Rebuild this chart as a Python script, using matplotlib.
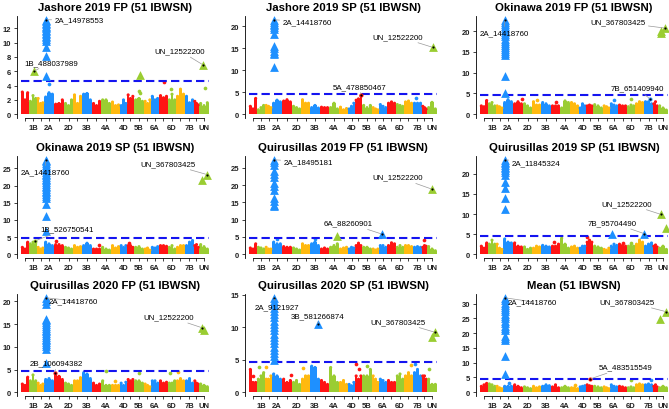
import numpy as np
import matplotlib
matplotlib.use('Agg')
import matplotlib.pyplot as plt

plt.rcParams['font.family'] = ['Liberation Sans', 'DejaVu Sans']

# chromosomes and their relative widths on the x axis
chroms = ['1A', '1B', '1D', '2A', '2B', '2D', '3A', '3B', '3D', '4A', '4B',
          '4D', '5A', '5B', '5D', '6A', '6B', '6D', '7A', '7B', '7D', 'UN']
chrom_len = [8, 8, 7, 10, 10, 9, 9, 10, 9, 10, 9, 7, 7, 10, 7, 8, 9, 8, 9, 9, 5, 10]
palette = ['#FF1414', '#9ACD32', '#FFB90F', '#1E90FF']
threshold = 4.6

titles = ['Jashore 2019 FP (51 IBWSN)', 'Jashore 2019 SP (51 IBWSN)', 'Okinawa 2019 FP (51 IBWSN)',
          'Okinawa 2019 SP (51 IBWSN)', 'Quirusillas 2019 FP (51 IBWSN)', 'Quirusillas 2019 SP (51 IBWSN)',
          'Quirusillas 2020 FP (51 IBWSN)', 'Quirusillas 2020 SP (51 IBWSN)', 'Mean (51 IBWSN)']
ystep = [2, 5, 5, 5, 5, 5, 5, 5, 5]

# cloud height of non-significant markers: 3 bins per chromosome (-log10 p)
bins_jfp19 = [(3.1, 2.0, 3.0), (1.8, 2.6, 2.2), (2.2, 1.5, 1.6), (2.4, 3.0, 2.8), (1.4, 1.5, 2.0), (1.5, 1.2, 2.0),
              (2.7, 1.5, 2.5), (2.8, 2.9, 2.0), (1.5, 1.2, 1.8), (2.0, 2.0, 1.5), (1.7, 1.2, 1.3), (1.2, 2.0, 1.5),
              (2.7, 2.2, 2.5), (2.0, 2.2, 1.8), (1.8, 1.5, 2.0), (2.5, 2.0, 2.2), (2.6, 2.3, 2.5), (2.0, 2.8, 2.0),
              (2.5, 3.5, 2.8), (2.5, 1.6, 2.0), (1.8, 1.5, 1.3), (1.5, 1.2, 1.6)]
bins_jsp19 = [(1.8, 1.2, 3.6), (1.0, 1.5, 2.0), (2.0, 1.8, 1.5), (2.5, 3.2, 2.8), (3.0, 3.3, 2.8), (1.8, 1.5, 1.2),
              (3.3, 2.5, 2.5), (1.5, 2.0, 1.4), (1.6, 1.5, 1.5), (1.5, 2.5, 1.2), (1.6, 1.0, 1.3), (1.2, 1.8, 2.5),
              (3.2, 3.5, 4.2), (2.0, 1.5, 2.0), (1.5, 1.2, 1.0), (2.2, 1.8, 1.5), (2.5, 2.8, 2.5), (2.2, 2.0, 1.8),
              (2.8, 3.0, 2.5), (2.5, 2.5, 2.5), (1.8, 1.5, 1.2), (1.5, 2.7, 1.2)]
bins_ofp19 = [(2.0, 1.8, 3.3), (2.5, 2.8, 2.0), (2.0, 1.8, 1.5), (2.8, 3.5, 3.0), (2.5, 3.0, 2.5), (2.5, 2.0, 1.5),
              (3.0, 2.2, 2.2), (2.8, 2.5, 2.0), (2.0, 2.0, 2.0), (1.5, 3.2, 2.8), (2.8, 2.5, 2.0), (1.5, 2.5, 2.0),
              (2.0, 2.2, 2.0), (2.3, 2.0, 1.5), (2.0, 1.8, 1.5), (2.5, 2.2, 2.0), (2.2, 2.0, 2.0), (1.8, 2.2, 2.0),
              (2.5, 3.0, 2.8), (3.0, 3.0, 2.5), (2.5, 3.0, 2.0), (2.0, 1.5, 1.0)]
bins_osp19 = [(2.0, 1.5, 3.5), (3.0, 3.5, 3.0), (2.0, 1.5, 1.8), (3.5, 3.0, 2.5), (2.8, 2.8, 2.5), (2.0, 1.8, 1.5),
              (2.5, 2.0, 2.2), (2.5, 3.2, 2.5), (1.5, 1.5, 1.5), (2.0, 1.5, 1.2), (2.5, 1.8, 2.2), (2.5, 2.0, 2.5),
              (2.5, 2.5, 2.0), (2.0, 2.2, 1.5), (1.5, 1.8, 1.2), (2.0, 1.8, 2.2), (2.5, 2.5, 2.3), (2.0, 2.5, 1.5),
              (2.0, 2.5, 2.5), (2.5, 3.5, 4.0), (2.5, 2.8, 2.0), (2.8, 2.2, 1.5)]
bins_qfp19 = [(1.8, 1.5, 3.0), (2.0, 1.8, 1.5), (2.0, 1.5, 1.5), (3.5, 3.0, 3.0), (2.2, 2.0, 2.0), (1.8, 1.5, 1.2),
              (3.0, 2.5, 2.5), (3.0, 3.5, 2.5), (1.5, 1.8, 1.5), (2.0, 2.5, 3.0), (1.5, 1.8, 2.0), (1.5, 2.0, 1.8),
              (2.5, 3.2, 2.5), (2.0, 2.0, 1.5), (1.5, 1.2, 1.5), (2.5, 2.5, 2.0), (2.5, 3.3, 3.0), (2.0, 2.5, 2.0),
              (2.5, 2.5, 2.2), (2.0, 2.2, 2.0), (2.0, 2.5, 2.3), (2.2, 1.5, 1.0)]
bins_qsp19 = [(2.0, 1.5, 2.8), (2.5, 3.5, 2.5), (2.5, 1.5, 1.2), (3.8, 3.0, 2.8), (2.8, 2.0, 1.8), (1.8, 1.2, 1.5),
              (1.5, 2.0, 1.8), (2.2, 2.0, 1.8), (2.0, 2.0, 2.5), (4.0, 2.5, 1.5), (1.8, 2.0, 1.5), (1.5, 2.0, 2.0),
              (3.0, 3.5, 3.0), (2.0, 1.8, 1.5), (1.2, 1.0, 1.5), (2.0, 2.5, 2.2), (2.5, 2.2, 2.0), (2.0, 2.2, 2.0),
              (2.5, 3.5, 3.0), (2.0, 2.5, 2.8), (2.0, 2.3, 1.8), (1.5, 2.0, 1.2)]
bins_qfp20 = [(1.8, 1.5, 3.3), (2.5, 3.8, 2.5), (2.0, 1.5, 1.8), (2.8, 3.0, 2.5), (4.2, 3.5, 2.8), (2.0, 1.8, 1.5),
              (2.5, 2.5, 3.2), (4.3, 4.0, 3.0), (2.0, 1.5, 1.8), (2.5, 1.5, 1.5), (1.5, 1.5, 1.5), (2.0, 1.5, 2.2),
              (2.8, 2.5, 2.8), (2.5, 2.5, 2.0), (1.8, 1.5, 1.2), (2.5, 2.5, 2.0), (2.5, 2.0, 2.2), (2.0, 2.0, 2.5),
              (2.5, 3.0, 2.5), (2.5, 3.0, 2.0), (2.5, 2.0, 1.8), (1.8, 1.5, 1.2)]
bins_qsp20 = [(3.5, 1.5, 1.5), (2.0, 2.5, 3.0), (2.0, 2.0, 2.5), (2.8, 2.5, 2.0), (2.0, 1.5, 1.8), (1.5, 1.8, 1.2),
              (2.0, 2.5, 2.5), (4.0, 3.8, 2.0), (1.8, 1.5, 1.2), (3.8, 2.5, 1.5), (1.5, 1.8, 1.2), (1.2, 1.0, 1.5),
              (2.5, 2.0, 2.5), (2.5, 2.5, 3.5), (2.5, 2.0, 1.5), (2.0, 1.8, 1.5), (1.8, 1.5, 1.5), (2.5, 2.8, 2.0),
              (2.5, 3.0, 2.5), (3.0, 3.5, 2.5), (2.5, 2.5, 2.0), (2.0, 1.2, 1.2)]
bins_mean = [(2.0, 2.5, 3.0), (2.8, 2.5, 2.0), (2.0, 1.5, 1.2), (2.0, 2.0, 2.0), (2.5, 2.0, 1.5), (1.8, 1.5, 1.2),
             (2.0, 1.5, 1.8), (2.0, 2.5, 2.2), (1.8, 2.5, 1.5), (1.5, 2.0, 1.5), (1.5, 1.5, 1.2), (1.8, 2.0, 2.2),
             (2.5, 2.2, 2.0), (2.0, 1.8, 1.5), (1.8, 1.5, 1.2), (2.5, 2.0, 1.8), (2.0, 1.8, 1.5), (1.5, 1.8, 1.5),
             (2.5, 2.8, 2.5), (2.5, 2.8, 2.5), (2.0, 2.5, 1.8), (1.5, 2.0, 1.5)]

# isolated markers below the threshold: (chrom, position in chrom 0-1, -log10 p)
dots_jfp19 = [('2A', 0.5, 4.2), ('6B', 0.6, 4.5), ('5B', 0.5, 3.3), ('5B', 0.6, 3.0), ('6D', 0.4, 3.5), ('UN', 0.6, 3.6)]
dots_jsp19 = [('7B', 0.3, 3.8)]
dots_ofp19 = [('2B', 0.9, 3.6), ('3A', 0.5, 3.3), ('3D', 0.5, 3.0), ('6A', 0.5, 3.5), ('6D', 0.5, 3.6)]
dots_osp19 = [('2B', 0.2, 3.8), ('3D', 0.8, 2.8), ('5A', 0.3, 3.3)]
dots_qfp19 = [('2A', 0.5, 4.5), ('3B', 0.5, 4.5), ('7D', 0.5, 4.0)]
dots_qsp19 = [('3D', 0.3, 3.0), ('5A', 0.2, 4.3), ('6B', 0.5, 2.7), ('6D', 0.5, 2.8)]
dots_qfp20 = [('4A', 0.5, 4.6), ('4B', 0.5, 2.5), ('5B', 0.5, 4.2), ('6D', 0.2, 4.3), ('7A', 0.2, 4.5)]
dots_qsp20 = [('1A', 0.5, 2.5), ('1B', 0.2, 3.8), ('1D', 0.2, 3.8), ('2B', 0.9, 2.6), ('3A', 0.2, 3.7), ('5A', 0.2, 4.4),
              ('5A', 0.6, 3.5), ('5B', 0.5, 4.0), ('7A', 0.8, 4.2), ('7B', 0.2, 4.4), ('UN', 0.2, 3.6)]
dots_mean = [('2A', 0.6, 3.2), ('4B', 0.5, 2.5), ('6D', 0.5, 4.0), ('7B', 0.8, 4.0)]

# significant markers (triangles): (chrom, position in chrom 0-1, [-log10 p])
hits_jfp19 = [('1B', 0.6, [6.0]),
              ('2A', 0.2, [13.2, 13.0, 12.8, 12.6, 12.4, 12.2, 12.0, 11.8, 11.6, 11.4, 11.2, 11.0, 10.8, 10.5,
                           10.2, 9.4, 8.2, 5.4]),
              ('5B', 0.6, [5.5]), ('UN', 0.4, [6.9])]
hits_jsp19 = [('2A', 0.2, [21.5, 21.0, 20.6, 20.2, 19.8, 19.4, 18.3, 15.5, 15.0, 14.5, 14.0, 13.6, 10.7]),
              ('UN', 0.6, [15.2])]
hits_ofp19 = [('2A', 0.2, [22.7, 22.2, 21.7, 21.2, 20.7, 20.2, 19.7, 19.2, 18.7, 18.2, 17.7, 17.2, 16.7, 16.2,
                           15.7, 15.2, 14.6, 14.2, 9.3, 5.0]),
              ('UN', 0.3, [20.0, 19.6]), ('UN', 0.7, [20.7])]
hits_osp19 = [('2A', 0.2, [27.5, 27.0, 26.5, 26.0, 25.5, 25.0, 24.5, 24.0, 23.5, 23.0, 22.5, 22.0, 21.5, 21.0,
                           20.5, 20.0, 19.5, 19.0, 18.5, 18.0, 17.5, 17.0, 16.5, 14.5, 11.0, 6.8]),
              ('UN', 0.3, [21.5]), ('UN', 0.8, [23.2])]
hits_qfp19 = [('2A', 0.2, [27.3, 26.6, 25.8, 24.0, 23.2, 22.4, 20.5, 19.6, 18.5, 16.2, 15.4, 14.3, 13.8]),
              ('4A', 0.8, [5.3]), ('6A', 0.4, [5.8]), ('UN', 0.5, [18.8])]
hits_qsp19 = [('2A', 0.2, [23.5, 23.0, 22.6, 22.2, 21.8, 21.4, 21.0, 20.5, 19.6, 18.0, 16.5, 14.0, 11.3]),
              ('6A', 0.25, [5.1]), ('7B', 0.05, [5.1]), ('UN', 0.3, [9.9]), ('UN', 0.8, [6.6])]
hits_qfp20 = [('2A', 0.2, [20.8, 20.2, 19.5, 16.2, 15.8, 15.4, 15.0, 14.6, 14.2, 13.8, 13.4, 13.0, 12.6, 12.2,
                           11.8, 11.4, 11.0, 10.6, 10.2, 9.6, 6.5]),
              ('UN', 0.3, [14.2]), ('UN', 0.5, [13.6])]
hits_qsp20 = [('2A', 0.2, [14.5, 14.0, 13.5, 13.0, 12.5, 12.0, 11.5, 11.0, 10.5, 10.0, 9.5, 9.0, 8.5, 8.0,
                           7.5, 7.0, 6.5, 6.0, 5.5, 5.0]),
              ('3B', 0.8, [10.4]), ('UN', 0.8, [9.2]), ('UN', 0.5, [8.5])]
hits_mean = [('2A', 0.2, [32.0, 31.2, 30.4, 29.6, 29.0, 28.2, 27.4, 26.6, 25.8, 25.0, 24.2, 23.4, 22.6, 21.8,
                          21.0, 19.0, 18.4, 17.8, 12.3, 6.3]),
             ('UN', 0.8, [27.3]), ('UN', 0.2, [24.8])]

# labelled lead markers: (name, chrom, position in chrom, -log10 p)
lead_jfp19 = [('2A_14978553', '2A', 0.2, 13.2), ('1B_488037989', '1B', 0.6, 6.0), ('UN_12522200', 'UN', 0.4, 6.9)]
lead_jsp19 = [('2A_14418760', '2A', 0.2, 21.5), ('UN_12522200', 'UN', 0.6, 15.2), ('5A_478850467', '5A', 0.85, 4.3)]
lead_ofp19 = [('2A_14418760', '2A', 0.2, 22.7), ('UN_367803425', 'UN', 0.7, 20.7), ('7B_651409940', '7B', 0.7, 3.6)]
lead_osp19 = [('2A_14418760', '2A', 0.2, 27.5), ('UN_367803425', 'UN', 0.8, 23.2), ('1B_526750541', '1B', 0.75, 3.9)]
lead_qfp19 = [('2A_18495181', '2A', 0.2, 27.3), ('UN_12522200', 'UN', 0.5, 18.8), ('6A_88260901', '6A', 0.4, 5.8)]
lead_qsp19 = [('2A_11845324', '2A', 0.2, 23.5), ('UN_12522200', 'UN', 0.3, 9.9), ('7B_95704490', '7B', 0.05, 5.1)]
lead_qfp20 = [('2A_14418760', '2A', 0.2, 20.8), ('UN_12522200', 'UN', 0.3, 14.2), ('2B_106094382', '2B', 0.1, 4.2)]
lead_qsp20 = [('2A_9121927', '2A', 0.2, 14.5), ('3B_581266874', '3B', 0.8, 10.4), ('UN_367803425', 'UN', 0.8, 9.2)]
lead_mean = [('2A_14418760', '2A', 0.2, 32.0), ('UN_367803425', 'UN', 0.8, 27.3), ('5A_483515549', '5A', 0.6, 4.5)]

panels = [
    (bins_jfp19, dots_jfp19, hits_jfp19, lead_jfp19),
    (bins_jsp19, dots_jsp19, hits_jsp19, lead_jsp19),
    (bins_ofp19, dots_ofp19, hits_ofp19, lead_ofp19),
    (bins_osp19, dots_osp19, hits_osp19, lead_osp19),
    (bins_qfp19, dots_qfp19, hits_qfp19, lead_qfp19),
    (bins_qsp19, dots_qsp19, hits_qsp19, lead_qsp19),
    (bins_qfp20, dots_qfp20, hits_qfp20, lead_qfp20),
    (bins_qsp20, dots_qsp20, hits_qsp20, lead_qsp20),
    (bins_mean, dots_mean, hits_mean, lead_mean),
]

# label offsets (pixels, text centre relative to the marker, +y = down)
label_offsets = [
    [(33, 0), (17, -9), (-23, -14)],
    [(33, 2), (-35, -11), (-1, -9)],
    [(-1, 13), (-47, -6), (-13, -11)],
    [(-1, 12), (-39, -11), (32, -12)],
    [(34, 2), (-34, -12), (-34, -11)],
    [(31, 3), (-34, -11), (-32, -11)],
    [(27, 3), (-33, -11), (1, -10)],
    [(3, 9), (0, -9), (-37, -11)],
    [(27, 4), (-39, -10), (35, -12)],
]

W, H = 669, 410
fig = plt.figure(figsize=(W / 100, H / 100), dpi=100)

col_left = [17, 245, 476]
row_top = [17, 157, 295]
ax_w, ax_h = 196, 102

starts = np.concatenate([[0], np.cumsum(chrom_len)[:-1]])
lens = np.array(chrom_len, dtype=float)
centers = starts + lens / 2
total = lens.sum()
cidx = {c: i for i, c in enumerate(chroms)}


def xpos(chrom, frac):
    i = cidx[chrom]
    return starts[i] + frac * lens[i]


for k, (bins, dots, hits, leads) in enumerate(panels):
    r, c = divmod(k, 3)
    ax = fig.add_axes([col_left[c] / W, 1 - (row_top[r] + ax_h) / H, ax_w / W, ax_h / H])

    # background cloud
    bx, bh, bw, bc = [], [], [], []
    for i, trip in enumerate(bins):
        for j, h in enumerate(trip):
            bx.append(starts[i] + (j + 0.5) * lens[i] / 3)
            bh.append(h)
            bw.append(lens[i] / 3)
            bc.append(palette[i % 4])
    ax.bar(bx, bh, width=bw, color=bc, linewidth=0, zorder=2)
    ax.scatter(bx, bh, s=5, c=bc, linewidths=0, zorder=2)

    for ch, f, y in dots:
        ax.scatter(xpos(ch, f), y, s=7, color=palette[cidx[ch] % 4], linewidths=0, zorder=3)

    ax.hlines(threshold, 0, total, colors='#1414f0', linestyles=(0, (4, 2)), lw=1.5, zorder=4)

    for ch, f, ys in hits:
        ax.scatter([xpos(ch, f)] * len(ys), ys, marker='^', s=40, color=palette[cidx[ch] % 4],
                   linewidths=0, zorder=5)

    for (name, ch, f, y), (dx, dy) in zip(leads, label_offsets[k]):
        x = xpos(ch, f)
        if y < threshold:
            ax.scatter(x, y, s=9, color=palette[cidx[ch] % 4], linewidths=0, zorder=5)
        ax.scatter(x, y, s=2.5, color='black', linewidths=0, zorder=6)
        ax.annotate(name, xy=(x, y), xytext=(dx, -dy), textcoords='offset pixels',
                    ha='center', va='center', fontsize=5.7, color='black', zorder=7,
                    arrowprops=dict(arrowstyle='-', color='#999999', lw=0.5, shrinkA=0, shrinkB=1))

    ymax = max(max(ys) for _, _, ys in hits)
    ax.set_ylim(-0.04 * ymax, 1.04 * ymax)
    ax.set_xlim(-4, total + 4)
    ax.set_yticks(np.arange(0, ymax * 1.04 + 0.01, ystep[k]))
    ax.set_xticks(centers)
    ax.set_xticklabels([ch if i % 2 == 1 else '' for i, ch in enumerate(chroms)])
    ax.tick_params(axis='both', length=2.5, width=0.6, labelsize=5.5, pad=1.5, colors='#222222')
    for lab in ax.get_xticklabels() + ax.get_yticklabels():
        lab.set_fontweight('bold')
    for s in ['top', 'right']:
        ax.spines[s].set_visible(False)
    ax.spines['left'].set_linewidth(0.6)
    ax.spines['bottom'].set_linewidth(0.6)
    ax.spines['bottom'].set_bounds(centers[0], centers[-1])
    ax.set_title(titles[k], fontsize=8.2, fontweight='bold', pad=4)

fig.savefig('out.png', dpi=100)
